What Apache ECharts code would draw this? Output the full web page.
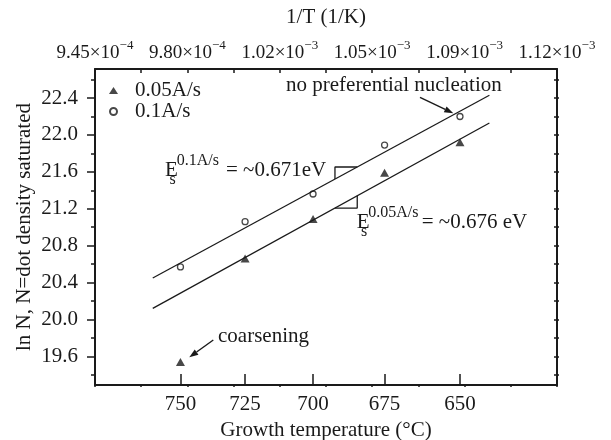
<!DOCTYPE html>
<html><head><meta charset="utf-8">
<script src="https://cdn.jsdelivr.net/npm/echarts@6/dist/echarts.min.js"></script>
<style>html,body{margin:0;padding:0;background:#fff}#c{width:611px;height:440px}</style>
</head><body><div id="c"></div>
<script>
// ---- data ----
const tempsC = [750, 725, 700, 675, 650];
const lnN_005 = [19.54, 20.66, 21.09, 21.59, 21.92];
const lnN_01 = [20.57, 21.06, 21.36, 21.89, 22.20];
const fitTempsC = [761.1, 640.6];
const fit01 = [20.45, 22.43];
const fit005 = [20.12, 22.13];
const slopeTempsC = [692.2, 684.4];
const invTTicks = [9.45e-4, 9.625e-4, 9.80e-4, 9.975e-4, 1.015e-3, 1.0325e-3, 1.05e-3, 1.0675e-3, 1.085e-3, 1.1025e-3, 1.12e-3];
const invTLabelPos = [9.45e-4, 9.80e-4, 1.015e-3, 1.05e-3, 1.085e-3, 1.12e-3];
const invTLabelMant = ['9.45', '9.80', '1.02', '1.05', '1.09', '1.12'];
const invTLabelExp = ['\u22124', '\u22124', '\u22123', '\u22123', '\u22123', '\u22123'];
const yLabelTicks = [19.6, 20.0, 20.4, 20.8, 21.2, 21.6, 22.0, 22.4];
const yMinorTicks = [19.4, 19.8, 20.2, 20.6, 21.0, 21.4, 21.8, 22.2, 22.6];

// ---- helpers ----
const K = 273.15;
const inv = t => 1 / (t + K);
function lineAt(vals, tC) {
  const x0 = inv(fitTempsC[0]), x1 = inv(fitTempsC[1]), x = inv(tC);
  return vals[0] + (vals[1] - vals[0]) * (x - x0) / (x1 - x0);
}
const FONT = 'Liberation Serif';
const INK = '#1a1a1a';
const X_MIN = 9.45e-4, X_MAX = 1.12e-3, Y_MIN = 19.29, Y_MAX = 22.715;
const yAll = yLabelTicks.concat(yMinorTicks).sort((a, b) => a - b);
const tempPos = tempsC.map(inv);

const chart = echarts.init(document.getElementById('c'), null, {renderer: 'canvas'});

function arrow(x1, y1, x2, y2) {
  const dx = x2 - x1, dy = y2 - y1, L = Math.hypot(dx, dy);
  const ux = dx / L, uy = dy / L, hl = 9, hw = 3.2;
  const bx = x2 - ux * hl, by = y2 - uy * hl;
  return [
    {type: 'line', shape: {x1: x1, y1: y1, x2: bx, y2: by}, style: {stroke: INK, lineWidth: 1.4}},
    {type: 'polygon', shape: {points: [[x2, y2], [bx - uy * hw, by + ux * hw], [bx + uy * hw, by - ux * hw]]}, style: {fill: INK}}
  ];
}
function txt(x, y, s, size, align) {
  return {type: 'text', x: x, y: y, style: {text: s, font: size + 'px "' + FONT + '"', fill: INK, textAlign: align || 'left', textVerticalAlign: 'middle'}};
}

const lineStyle = {color: INK, width: 1.3};
const option = {
  animation: false,
  backgroundColor: '#fff',
  grid: {left: 95, right: 54, top: 69, bottom: 55, containLabel: false, outerBoundsMode: 'none'},
  legend: {
    orient: 'vertical', left: 104, top: 75, itemWidth: 9, itemHeight: 7, itemGap: 0,
    textStyle: {fontFamily: FONT, fontSize: 21, color: INK, lineHeight: 20, padding: [0, 0, 0, 12]},
    data: [{name: '0.05A/s', icon: 'triangle'}, {name: '0.1A/s', icon: 'circle'}]
  },
  xAxis: [
    {
      type: 'value', position: 'bottom', min: X_MIN, max: X_MAX,
      name: 'Growth temperature (\u00B0C)', nameLocation: 'middle', nameGap: 35, nameMoveOverlap: false,
      nameTextStyle: {fontFamily: FONT, fontSize: 21, color: INK},
      axisLine: {show: true, lineStyle: {color: INK, width: 2}},
      axisTick: {show: true, inside: true, length: 11, customValues: tempPos, lineStyle: {color: INK, width: 1.5}},
      axisLabel: {show: true, customValues: tempPos, margin: 9, fontFamily: FONT, fontSize: 21, color: INK,
        formatter: v => String(Math.round(1 / v - K))},
      splitLine: {show: false}
    },
    {
      type: 'value', position: 'bottom', min: X_MIN, max: X_MAX,
      axisLine: {show: false},
      axisTick: {show: true, inside: false, length: 2, customValues: invTTicks, lineStyle: {color: INK, width: 1.5}},
      axisLabel: {show: false}, splitLine: {show: false}
    },
    {
      type: 'value', position: 'top', min: X_MIN, max: X_MAX,
      name: '1/T (1/K)', nameLocation: 'middle', nameGap: 41, nameMoveOverlap: false,
      nameTextStyle: {fontFamily: FONT, fontSize: 21, color: INK},
      axisLine: {show: true, lineStyle: {color: INK, width: 2}},
      axisTick: {show: true, inside: true, length: 4, customValues: invTTicks, lineStyle: {color: INK, width: 1.5}},
      axisLabel: {
        show: true, customValues: invTLabelPos, margin: 6, alignMinLabel: 'center', alignMaxLabel: 'center',
        formatter: v => {
          let i = 0, best = Infinity;
          invTLabelPos.forEach((p, k) => { const d = Math.abs(p - v); if (d < best) { best = d; i = k; } });
          return '{m|' + invTLabelMant[i] + '\u00D710}{s|' + invTLabelExp[i] + '}';
        },
        rich: {
          m: {fontFamily: FONT, fontSize: 19, color: INK, lineHeight: 24, verticalAlign: 'bottom'},
          s: {fontFamily: FONT, fontSize: 13, color: INK, lineHeight: 24, verticalAlign: 'top'}
        }
      },
      splitLine: {show: false}
    }
  ],
  yAxis: [
    {
      type: 'value', position: 'left', min: Y_MIN, max: Y_MAX,
      name: 'ln N, N=dot density saturated', nameLocation: 'middle', nameGap: 60, nameMoveOverlap: false,
      nameTextStyle: {fontFamily: FONT, fontSize: 21, color: INK},
      axisLine: {show: true, lineStyle: {color: INK, width: 2}},
      axisTick: {show: true, inside: false, length: 8, customValues: yLabelTicks, lineStyle: {color: INK, width: 1.5}},
      axisLabel: {show: true, customValues: yLabelTicks, margin: 17, fontFamily: FONT, fontSize: 21, color: INK,
        formatter: v => v.toFixed(1)},
      splitLine: {show: false}
    },
    {
      type: 'value', position: 'left', min: Y_MIN, max: Y_MAX,
      axisLine: {show: false},
      axisTick: {show: true, inside: false, length: 4, customValues: yMinorTicks, lineStyle: {color: INK, width: 1.5}},
      axisLabel: {show: false}, splitLine: {show: false}
    },
    {
      type: 'value', position: 'right', min: Y_MIN, max: Y_MAX,
      axisLine: {show: true, lineStyle: {color: INK, width: 2}},
      axisTick: {show: true, inside: true, length: 3, customValues: yAll, lineStyle: {color: INK, width: 1.5}},
      axisLabel: {show: false}, splitLine: {show: false}
    },
    {
      type: 'value', position: 'right', min: Y_MIN, max: Y_MAX,
      axisLine: {show: false},
      axisTick: {show: true, inside: false, length: 2, customValues: yAll, lineStyle: {color: INK, width: 1.5}},
      axisLabel: {show: false}, splitLine: {show: false}
    }
  ],
  series: [
    {
      name: 'fit 0.1A/s', type: 'line', xAxisIndex: 0, yAxisIndex: 0, showSymbol: false, silent: true,
      data: fitTempsC.map((t, i) => [inv(t), fit01[i]]), lineStyle: lineStyle
    },
    {
      name: 'fit 0.05A/s', type: 'line', xAxisIndex: 0, yAxisIndex: 0, showSymbol: false, silent: true,
      data: fitTempsC.map((t, i) => [inv(t), fit005[i]]), lineStyle: lineStyle
    },
    {
      name: 'slope 0.1A/s', type: 'line', xAxisIndex: 0, yAxisIndex: 0, showSymbol: false, silent: true,
      data: [[inv(slopeTempsC[0]), lineAt(fit01, slopeTempsC[0])], [inv(slopeTempsC[0]), lineAt(fit01, slopeTempsC[1])], [inv(slopeTempsC[1]), lineAt(fit01, slopeTempsC[1])]],
      lineStyle: lineStyle
    },
    {
      name: 'slope 0.05A/s', type: 'line', xAxisIndex: 0, yAxisIndex: 0, showSymbol: false, silent: true,
      data: [[inv(slopeTempsC[0]), lineAt(fit005, slopeTempsC[0])], [inv(slopeTempsC[1]), lineAt(fit005, slopeTempsC[0])], [inv(slopeTempsC[1]), lineAt(fit005, slopeTempsC[1])]],
      lineStyle: lineStyle
    },
    {
      name: '0.05A/s', type: 'scatter', xAxisIndex: 0, yAxisIndex: 0, symbol: 'triangle', symbolSize: [9, 8],
      itemStyle: {color: INK},
      data: tempsC.map((t, i) => [inv(t), lnN_005[i]])
    },
    {
      name: '0.1A/s', type: 'scatter', xAxisIndex: 0, yAxisIndex: 0, symbol: 'circle', symbolSize: 6,
      itemStyle: {color: '#fff', borderColor: INK, borderWidth: 1.3},
      data: tempsC.map((t, i) => [inv(t), lnN_01[i]])
    }
  ],
  graphic: [
    txt(286, 85, 'no preferential nucleation', 21),
    ...arrow(420, 97.3, 453.3, 113.3),
    txt(218, 336, 'coarsening', 21),
    ...arrow(213.3, 340, 189.3, 357.3),
    txt(165, 170, 'E', 21),
    txt(176.7, 161, '0.1A/s', 16),
    txt(169.5, 180, 's', 16),
    txt(226, 170, '= ~0.671eV', 21),
    txt(356.7, 222.3, 'E', 21),
    txt(368.3, 212.5, '0.05A/s', 16),
    txt(361, 232, 's', 16),
    txt(421.7, 222.3, '= ~0.676 eV', 21)
  ]
};
chart.setOption(option);
</script>
</body></html>
